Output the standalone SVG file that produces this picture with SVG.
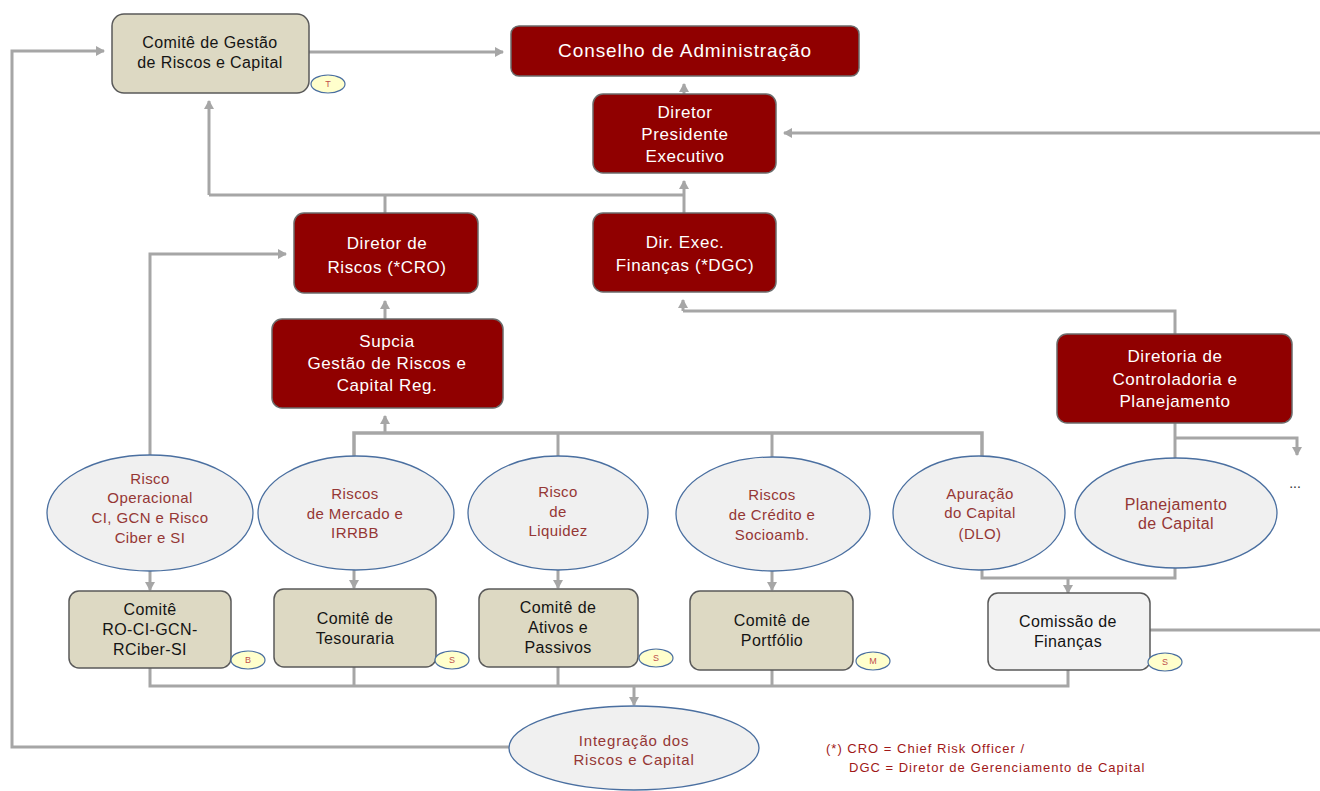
<svg xmlns="http://www.w3.org/2000/svg" width="1320" height="791" viewBox="0 0 1320 791">
<defs>
<marker id="ah" markerWidth="10" markerHeight="10" refX="8" refY="5" orient="auto" markerUnits="userSpaceOnUse">
<path d="M0,0 L9,5 L0,10 z" fill="#a6a6a6"/>
</marker>
<style>
.red{fill:#900000;stroke:#6b6b6b;stroke-width:1.5}
.beige{fill:#ddd9c3;stroke:#595959;stroke-width:1.5}
.grey{fill:#f2f2f2;stroke:#595959;stroke-width:1.5}
.ell{fill:#f0f0f0;stroke:#4a6fa0;stroke-width:1.3}
.badge{fill:#ffffcc;stroke:#4a6fa0;stroke-width:1.2}
.wt{font-family:"Liberation Sans",Arial,sans-serif;font-size:17px;letter-spacing:0.6px;fill:#ffffff;text-anchor:middle}
.bt{font-family:"Liberation Sans",Arial,sans-serif;font-size:16px;letter-spacing:0.4px;fill:#141414;text-anchor:middle}
.et{font-family:"Liberation Sans",Arial,sans-serif;font-size:15px;letter-spacing:0.4px;fill:#953735;text-anchor:middle}
.bd{font-family:"Liberation Sans",Arial,sans-serif;font-size:9px;fill:#c0504d;text-anchor:middle}
.fn{font-family:"Liberation Sans",Arial,sans-serif;font-size:13px;letter-spacing:1px;fill:#a01818}
.c{fill:none;stroke:#a6a6a6;stroke-width:3}
.ca{fill:none;stroke:#a6a6a6;stroke-width:3;marker-end:url(#ah)}
</style>
</defs>
<rect width="1320" height="791" fill="#ffffff"/>

<g id="connectors">
<path class="ca" d="M509,747 H12 V51 H104"/>
<path class="ca" d="M309,52 H503"/>
<path class="ca" d="M684,94 V84"/>
<path class="ca" d="M1320,133 H784"/>
<path class="c" d="M209,195 H684"/>
<path class="ca" d="M209,195 V101"/>
<path class="c" d="M385,213 V195"/>
<path class="ca" d="M684,213 V181"/>
<path class="ca" d="M150,456 V254 H286"/>
<path class="ca" d="M385,319 V301"/>
<path class="c" d="M354,457 V433 H982 V458" style="stroke-width:3.5"/>
<path class="ca" d="M385,433 V416"/>
<path class="c" d="M558,456 V433"/>
<path class="c" d="M772,457 V433"/>
<path class="c" d="M1175,334 V311 H683"/>
<path class="ca" d="M683,311 V300"/>
<path class="c" d="M1175,423 V459"/>
<path class="ca" d="M1175,438 H1297 V455"/>
<path class="c" d="M982,569 V578 H1175 V568"/>
<path class="ca" d="M1068,578 V593"/>
<path class="ca" d="M150,571 V590"/>
<path class="ca" d="M354,570 V588"/>
<path class="ca" d="M558,570 V588"/>
<path class="ca" d="M772,570 V590"/>
<path class="c" d="M150,668 V686 H1068 V670"/>
<path class="c" d="M354,667 V686"/>
<path class="c" d="M558,667 V686"/>
<path class="c" d="M772,670 V686"/>
<path class="ca" d="M634,686 V705"/>
<path class="c" d="M1150,630 H1320"/>
</g>

<g id="comite-gestao">
<rect class="beige" x="112" y="14" width="197" height="79" rx="12"/>
<text class="bt" x="210" y="48">Comitê de Gestão</text>
<text class="bt" x="210" y="68">de Riscos e Capital</text>
<ellipse class="badge" cx="328" cy="84" rx="17" ry="9"/>
<text class="bd" x="328" y="87">T</text>
</g>

<g id="conselho">
<rect class="red" x="511" y="26" width="348" height="50" rx="8"/>
<text class="wt" x="685" y="57" style="font-size:19px;letter-spacing:0.9px">Conselho de Administração</text>
</g>

<g id="diretor-presidente">
<rect class="red" x="593" y="94" width="183" height="79" rx="10"/>
<text class="wt" x="685" y="118">Diretor</text>
<text class="wt" x="685" y="140">Presidente</text>
<text class="wt" x="685" y="162">Executivo</text>
</g>

<g id="dir-exec-financas">
<rect class="red" x="593" y="213" width="183" height="79" rx="10"/>
<text class="wt" x="685" y="248">Dir. Exec.</text>
<text class="wt" x="685" y="271">Finanças (*DGC)</text>
</g>

<g id="diretor-riscos">
<rect class="red" x="294" y="213" width="184" height="80" rx="10"/>
<text class="wt" x="387" y="249">Diretor de</text>
<text class="wt" x="387" y="273">Riscos (*CRO)</text>
</g>

<g id="supcia">
<rect class="red" x="272" y="319" width="231" height="89" rx="10"/>
<text class="wt" x="387" y="347">Supcia</text>
<text class="wt" x="387" y="369">Gestão de Riscos e</text>
<text class="wt" x="387" y="391">Capital Reg.</text>
</g>

<g id="diretoria-controladoria">
<rect class="red" x="1057" y="334" width="235" height="89" rx="10"/>
<text class="wt" x="1175" y="362">Diretoria de</text>
<text class="wt" x="1175" y="385">Controladoria e</text>
<text class="wt" x="1175" y="407">Planejamento</text>
</g>

<g id="risco-operacional">
<ellipse class="ell" cx="150" cy="513" rx="103" ry="58"/>
<text class="et" x="150" y="484">Risco</text>
<text class="et" x="150" y="503">Operacional</text>
<text class="et" x="150" y="523">CI, GCN e Risco</text>
<text class="et" x="150" y="543">Ciber e SI</text>
</g>

<g id="riscos-mercado">
<ellipse class="ell" cx="356" cy="513" rx="98" ry="57"/>
<text class="et" x="355" y="499">Riscos</text>
<text class="et" x="355" y="519">de Mercado e</text>
<text class="et" x="355" y="538">IRRBB</text>
</g>

<g id="risco-liquidez">
<ellipse class="ell" cx="558" cy="513" rx="90" ry="57"/>
<text class="et" x="558" y="497">Risco</text>
<text class="et" x="558" y="517">de</text>
<text class="et" x="558" y="536">Liquidez</text>
</g>

<g id="riscos-credito">
<ellipse class="ell" cx="773" cy="514" rx="97" ry="57"/>
<text class="et" x="772" y="500">Riscos</text>
<text class="et" x="772" y="520">de Crédito e</text>
<text class="et" x="772" y="540">Socioamb.</text>
</g>

<g id="apuracao-capital">
<ellipse class="ell" cx="979" cy="513" rx="86" ry="57"/>
<text class="et" x="980" y="499">Apuração</text>
<text class="et" x="980" y="518">do Capital</text>
<text class="et" x="980" y="539">(DLO)</text>
</g>

<g id="planejamento-capital">
<ellipse class="ell" cx="1176" cy="513" rx="101" ry="55"/>
<text class="et" x="1176" y="510" style="font-size:16px">Planejamento</text>
<text class="et" x="1176" y="529" style="font-size:16px">de Capital</text>
</g>

<text x="1295" y="488" style="font-family:'Liberation Sans',Arial,sans-serif;font-size:14px;fill:#333333;text-anchor:middle">...</text>

<g id="comite-ro">
<rect class="beige" x="69" y="591" width="162" height="77" rx="10"/>
<text class="bt" x="150" y="615">Comitê</text>
<text class="bt" x="150" y="635">RO-CI-GCN-</text>
<text class="bt" x="150" y="655">RCiber-SI</text>
<ellipse class="badge" cx="248" cy="660" rx="17" ry="9"/>
<text class="bd" x="248" y="663">B</text>
</g>

<g id="comite-tesouraria">
<rect class="beige" x="274" y="589" width="162" height="78" rx="10"/>
<text class="bt" x="355" y="624">Comitê de</text>
<text class="bt" x="355" y="644">Tesouraria</text>
<ellipse class="badge" cx="452" cy="660" rx="17" ry="9"/>
<text class="bd" x="452" y="663">S</text>
</g>

<g id="comite-ativos">
<rect class="beige" x="479" y="589" width="159" height="78" rx="10"/>
<text class="bt" x="558" y="613">Comitê de</text>
<text class="bt" x="558" y="633">Ativos e</text>
<text class="bt" x="558" y="653">Passivos</text>
<ellipse class="badge" cx="656" cy="658" rx="17" ry="9"/>
<text class="bd" x="656" y="661">S</text>
</g>

<g id="comite-portfolio">
<rect class="beige" x="690" y="591" width="163" height="79" rx="10"/>
<text class="bt" x="772" y="626">Comitê de</text>
<text class="bt" x="772" y="646">Portfólio</text>
<ellipse class="badge" cx="873" cy="661" rx="17" ry="9"/>
<text class="bd" x="873" y="664">M</text>
</g>

<g id="comissao-financas">
<rect class="grey" x="988" y="593" width="162" height="77" rx="10"/>
<text class="bt" x="1068" y="627">Comissão de</text>
<text class="bt" x="1068" y="647">Finanças</text>
<ellipse class="badge" cx="1165" cy="662" rx="17" ry="9"/>
<text class="bd" x="1165" y="665">S</text>
</g>

<g id="integracao">
<ellipse class="ell" cx="634" cy="748" rx="125" ry="42"/>
<text class="et" x="634" y="746" style="letter-spacing:0.8px">Integração dos</text>
<text class="et" x="634" y="765" style="letter-spacing:0.8px">Riscos e Capital</text>
</g>

<g id="footnote">
<text class="fn" x="826" y="753">(*) CRO = Chief Risk Officer /</text>
<text class="fn" x="849" y="772">DGC = Diretor de Gerenciamento de Capital</text>
</g>
</svg>
